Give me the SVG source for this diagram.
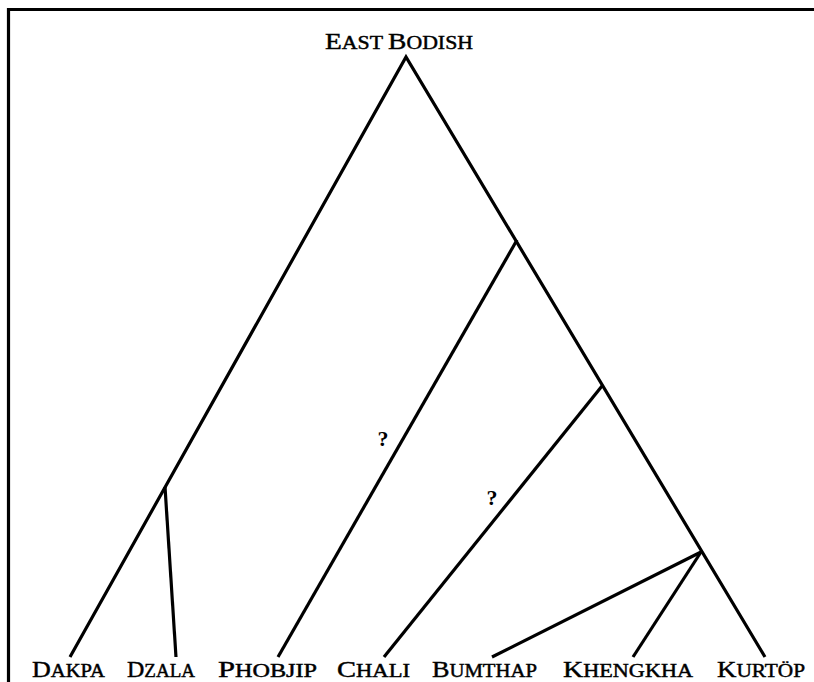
<svg xmlns="http://www.w3.org/2000/svg" width="814" height="682" viewBox="0 0 814 682">
<style>
.ln{stroke:#000;stroke-width:3.2;fill:none;stroke-linecap:butt;stroke-linejoin:miter}
.lb{font-family:"Liberation Serif","Times New Roman",serif;font-size:19px;fill:#000;stroke:#000;stroke-width:0.45}
.cap{font-size:24px}
.q{font-family:"Liberation Serif","Times New Roman",serif;font-size:22px;font-weight:bold;fill:#000}
</style>
<rect width="814" height="682" fill="#fff"/>
<path d="M8.5 682 V9.5 H814" class="ln" stroke-width="2.5"/>
<g id="connectors">
<path class="ln" d="M70 657 L406 57 L765 657"/>
<path class="ln" d="M165 487 L176 657"/>
<path class="ln" d="M517 240 L278 657"/>
<path class="ln" d="M602 386 L384 657"/>
<path class="ln" d="M701 552 L492 657"/>
<path class="ln" d="M701 552 L633 657"/>
</g>
<g id="east-bodish"><text class="lb" x="325" y="49" textLength="148" lengthAdjust="spacingAndGlyphs"><tspan class="cap">E</tspan>AST <tspan class="cap">B</tspan>ODISH</text></g>
<g id="q1"><text class="q" x="383" y="446" text-anchor="middle">?</text></g>
<g id="q2"><text class="q" x="492" y="505" text-anchor="middle">?</text></g>
<g id="dakpa"><text class="lb" x="32" y="677" textLength="73" lengthAdjust="spacingAndGlyphs"><tspan class="cap">D</tspan>AKPA</text></g>
<g id="dzala"><text class="lb" x="127" y="677" textLength="68" lengthAdjust="spacingAndGlyphs"><tspan class="cap">D</tspan>ZALA</text></g>
<g id="phobjip"><text class="lb" x="218" y="677" textLength="99" lengthAdjust="spacingAndGlyphs"><tspan class="cap">P</tspan>HOBJIP</text></g>
<g id="chali"><text class="lb" x="337" y="677" textLength="73" lengthAdjust="spacingAndGlyphs"><tspan class="cap">C</tspan>HALI</text></g>
<g id="bumthap"><text class="lb" x="432" y="677" textLength="105" lengthAdjust="spacingAndGlyphs"><tspan class="cap">B</tspan>UMTHAP</text></g>
<g id="khengkha"><text class="lb" x="563" y="677" textLength="130" lengthAdjust="spacingAndGlyphs"><tspan class="cap">K</tspan>HENGKHA</text></g>
<g id="kurtop"><text class="lb" x="717" y="677" textLength="88" lengthAdjust="spacingAndGlyphs"><tspan class="cap">K</tspan>URTÖP</text></g>
</svg>
